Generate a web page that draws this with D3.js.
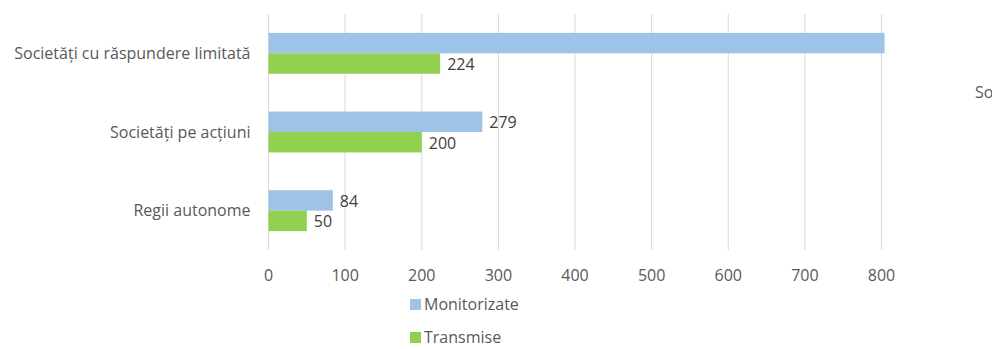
<!DOCTYPE html>
<html>
<head>
<meta charset="utf-8">
<script src="https://cdn.jsdelivr.net/npm/d3@7"></script>
<style>
  body { margin: 0; background: #fff; }
  svg { display: block; font-family: "Open Sans", sans-serif; }
</style>
</head>
<body>
<svg id="chart" width="992" height="349"></svg>
<script>
// chart values
const categories = ["Societăți cu răspundere limitată", "Societăți pe acțiuni", "Regii autonome"];
const monitorizate = [804, 279, 84];
const transmise = [224, 200, 50];
const seriesNames = ["Monitorizate", "Transmise"];
const ticks = [0, 100, 200, 300, 400, 500, 600, 700, 800];
const showLabel = [[false, true, true], [true, true, true]];

const colors = ["#9dc3e6", "#92d050"];
const textColor = "#595959";

const svg = d3.select("#chart");
const margin = {left: 268.5, top: 14, right: 110.5, bottom: 99};
const plotW = 992 - margin.left - margin.right;
const plotH = 349 - margin.top - margin.bottom;

const x = d3.scaleLinear().domain([0, 800]).range([0, plotW]);
const y = d3.scaleBand().domain(categories).range([0, plotH]).paddingInner(0.48).paddingOuter(0.24);
const ySub = d3.scaleBand().domain(seriesNames).range([0, y.bandwidth()]);

const g = svg.append("g").attr("transform", `translate(${margin.left},${margin.top})`);

// gridlines
g.selectAll(".grid")
  .data(ticks)
  .enter()
  .append("line")
  .attr("x1", d => x(d)).attr("x2", d => x(d))
  .attr("y1", 0).attr("y2", plotH)
  .attr("stroke", "#d9d9d9")
  .attr("stroke-width", 1);

// x tick labels
g.selectAll(".tick-label")
  .data(ticks)
  .enter()
  .append("text")
  .attr("x", d => x(d))
  .attr("y", plotH + 25)
  .attr("dy", "0.35em")
  .attr("text-anchor", "middle")
  .attr("font-size", 16)
  .attr("fill", textColor)
  .text(d => d);

// category labels
g.selectAll(".cat-label")
  .data(categories)
  .enter()
  .append("text")
  .attr("x", -18)
  .attr("y", d => y(d) + y.bandwidth() / 2)
  .attr("dy", "0.35em")
  .attr("text-anchor", "end")
  .attr("font-size", 16)
  .attr("fill", textColor)
  .text(d => d);

const series = [monitorizate, transmise];

series.forEach((vals, si) => {
  const rows = categories.map((c, i) => ({cat: c, v: vals[i], show: showLabel[si][i]}));

  g.selectAll(`.bar-${si}`)
    .data(rows)
    .enter()
    .append("rect")
    .attr("x", x(0))
    .attr("y", d => y(d.cat) + ySub(seriesNames[si]))
    .attr("width", d => x(d.v) - x(0))
    .attr("height", ySub.bandwidth())
    .attr("fill", colors[si]);

  g.selectAll(`.val-${si}`)
    .data(rows.filter(d => d.show))
    .enter()
    .append("text")
    .attr("x", d => x(d.v) + 7)
    .attr("y", d => y(d.cat) + ySub(seriesNames[si]) + ySub.bandwidth() / 2 + 1)
    .attr("dy", "0.35em")
    .attr("font-size", 16)
    .attr("fill", "#404040")
    .text(d => d.v);
});

// legend (second row pulled up a little so it stays inside the picture)
const legend = svg.selectAll(".legend")
  .data(seriesNames)
  .enter()
  .append("g")
  .attr("transform", (d, i) => `translate(410,${299 + i * 33})`);

legend.append("rect")
  .attr("width", 11).attr("height", 11)
  .attr("fill", (d, i) => colors[i]);

legend.append("text")
  .attr("x", 14)
  .attr("y", 5.5)
  .attr("dy", "0.35em")
  .attr("font-size", 16)
  .attr("fill", textColor)
  .text(d => d);

// partial label at right edge (the rest lies outside the picture)
svg.append("text")
  .attr("x", 975)
  .attr("y", 92)
  .attr("dy", "0.35em")
  .attr("font-size", 16)
  .attr("fill", textColor)
  .text("So");
</script>
</body>
</html>
